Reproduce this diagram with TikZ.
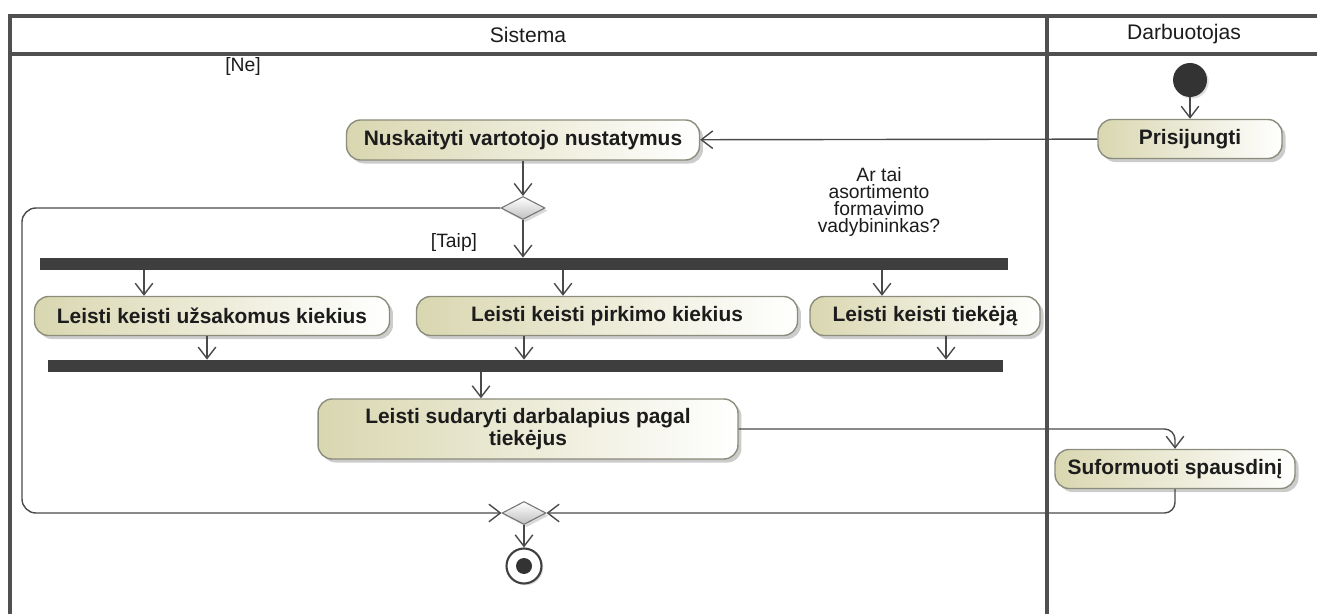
\documentclass[tikz,border=0pt]{standalone}
\usepackage{fontspec}
\setmainfont{Liberation Sans}
\usetikzlibrary{arrows.meta,shapes.geometric,shadows}

\definecolor{frameline}{HTML}{505050}
\definecolor{actfill}{HTML}{D9D7B0}
\definecolor{actline}{HTML}{8C8C7C}
\definecolor{barfill}{HTML}{3E3E3E}
\definecolor{ink}{HTML}{1C1C1C}
\definecolor{flow}{HTML}{4A4A4A}

\tikzset{
  lane/.style={draw=frameline, line width=1.8pt},
  hdr/.style={font=\fontsize{12}{13}\selectfont, text=ink, inner sep=0pt},
  lbl/.style={font=\fontsize{11}{9.8}\selectfont, text=ink, inner sep=0pt, align=center},
  act/.style={rectangle, rounded corners=8pt, draw=actline, line width=0.8pt,
    left color=actfill, right color=white,
    drop shadow={shadow xshift=2pt, shadow yshift=-2pt, fill=black!40, opacity=0.5},
    font=\bfseries\fontsize{11.9}{12.5}\selectfont, text=ink, align=center, inner sep=0pt},
  bar/.style={rectangle, fill=barfill, inner sep=0pt, minimum height=0.24cm},
  choice/.style={diamond, draw=black!55, line width=0.6pt, top color=white, bottom color=black!25,
    drop shadow={shadow xshift=1.5pt, shadow yshift=-1.5pt, fill=black!30, opacity=0.5},
    inner sep=0pt, minimum width=0.88cm, minimum height=0.46cm},
  arr/.style={draw=flow, line width=0.8pt, -{Straight Barb[length=6.5pt,width=10pt,line width=0.8pt]}},
}

\begin{document}
\begin{tikzpicture}[x=0.02cm, y=-0.02cm]
\useasboundingbox (0,0) rectangle (1317,614);

% swimlane frame
\draw[lane] (10,614) -- (10,16) -- (1317,16);
\draw[lane] (10,54) -- (1317,54);
\draw[lane] (1047,16) -- (1047,614);
\node[hdr] (sistema) at (528,35) {Sistema};
\node[hdr] (darbuotojas) at (1184,34) {Darbuotojas};

% start and first actions
\node[circle, fill=black!80, minimum size=0.68cm, inner sep=0pt,
      drop shadow={shadow xshift=1pt, shadow yshift=-1pt, fill=black!30, opacity=0.4}] (init) at (1190,80) {};
\node[act, minimum width=3.68cm, minimum height=0.78cm] (prisi) at (1190,139) {Prisijungti};
\node[act, minimum width=7.06cm, minimum height=0.8cm] (nusk) at (523,140) {Nuskaityti vartotojo nustatymus};

% decision
\node[choice] (dec) at (523,208) {};
\node[lbl] (ne) at (243,67) {[Ne]};
\node[lbl] (taip) at (454,243) {[Taip]};
\node[lbl] (cond) at (879,202) {Ar tai\\asortimento\\formavimo\\vadybininkas?};

% fork / parallel actions / join
\node[bar, minimum width=19.36cm] (fork) at (524,264) {};
\node[act, minimum width=7.1cm, minimum height=0.78cm] (a1) at (212,316) {Leisti keisti užsakomus kiekius};
\node[act, minimum width=7.62cm, minimum height=0.78cm] (a2) at (607,316) {Leisti keisti pirkimo kiekius};
\node[act, minimum width=4.6cm, minimum height=0.78cm] (a3) at (925,316) {Leisti keisti tiekėją};
\node[bar, minimum width=19.1cm] (join) at (525.5,366) {};

\node[act, minimum width=8.4cm, minimum height=1.2cm] (sud) at (528,429) {Leisti sudaryti darbalapius pagal\\tiekėjus};
\node[act, minimum width=4.8cm, minimum height=0.78cm] (sufo) at (1175,469) {Suformuoti spausdinį};

% merge and final node
\node[choice] (merge) at (524,513) {};
\node[circle, draw=black!75, line width=1.2pt, fill=white, minimum size=0.7cm, inner sep=0pt,
      drop shadow={shadow xshift=1pt, shadow yshift=-1pt, fill=black!30, opacity=0.4}] (fin) at (524,566) {};
\node[circle, fill=black!80, minimum size=0.32cm, inner sep=0pt] (findot) at (fin.center) {};

% x positions of the branch connectors
\coordinate (xa) at (144,0);
\coordinate (xb) at (563,0);
\coordinate (xc) at (882,0);
\coordinate (xd) at (207,0);
\coordinate (xe) at (524,0);
\coordinate (xf) at (946,0);
\coordinate (xg) at (481,0);
\coordinate (loopx) at (22,0);

% flows
\draw[arr] (init) -- (prisi);
\draw[arr] (prisi) -- (nusk);
\draw[arr] (nusk) -- (dec);
\draw[arr] (dec.south) -- (dec.south |- fork.north);
\draw[arr, rounded corners=8pt] (dec.west) -| (loopx |- sud.south) |- (merge.west);

\draw[arr] (fork.south -| xa) -- (a1.north -| xa);
\draw[arr] (fork.south -| xb) -- (a2.north -| xb);
\draw[arr] (fork.south -| xc) -- (a3.north -| xc);
\draw[arr] (a1.south -| xd) -- (join.north -| xd);
\draw[arr] (a2.south -| xe) -- (join.north -| xe);
\draw[arr] (a3.south -| xf) -- (join.north -| xf);
\draw[arr] (join.south -| xg) -- (sud.north -| xg);

\draw[arr, rounded corners=6pt] (sud.east) -| (sufo.north);
\draw[arr, rounded corners=6pt] (sufo.south) |- (merge.east);
\draw[arr] (merge) -- (fin);
\end{tikzpicture}
\end{document}
